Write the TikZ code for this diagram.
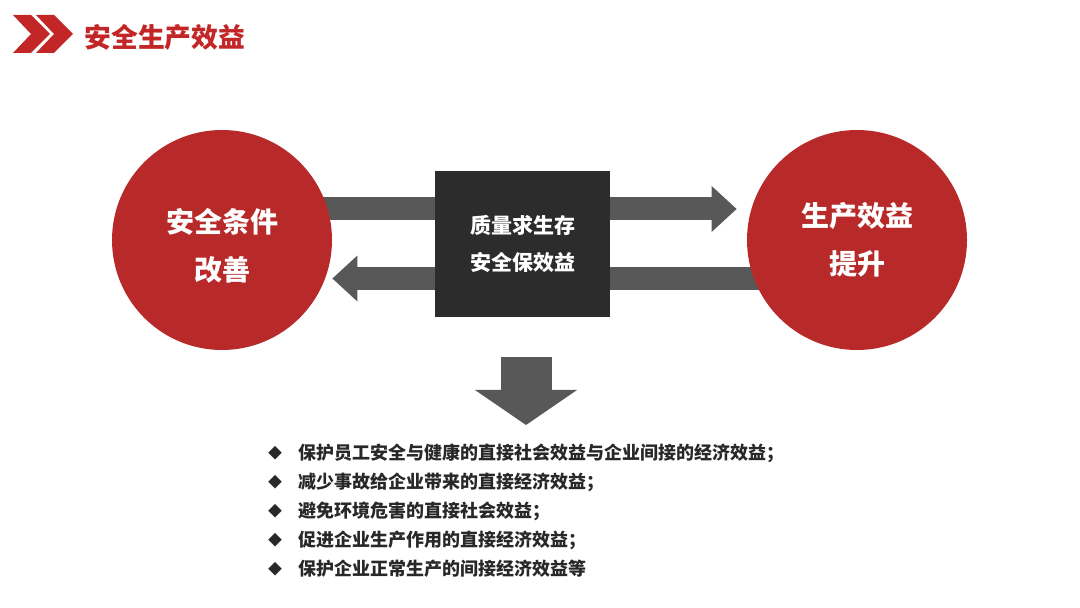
\documentclass[tikz,border=0pt]{standalone}
\usepackage{fontspec}
\setmainfont{Noto Sans CJK SC}
\usetikzlibrary{arrows.meta,backgrounds}
\definecolor{benefitred}{RGB}{184,42,42}
\definecolor{titlered}{RGB}{194,38,38}
\definecolor{boxdark}{RGB}{44,44,44}
\definecolor{arrowgray}{RGB}{88,88,88}
\definecolor{textgray}{RGB}{40,40,40}

\begin{document}
\begin{tikzpicture}[x=.5pt,y=-.5pt,line join=miter,
  disc/.style={circle,fill=benefitred,minimum size=110pt,inner sep=0pt,
   text=white,align=center,font=\fontsize{14}{24}\selectfont\bfseries},
  disctext/.style={inner sep=0pt,text=white,align=center,
   font=\fontsize{14}{24}\selectfont\bfseries},
  core/.style={fill=boxdark,minimum width=87.5pt,minimum height=73pt,
   inner sep=0pt,text=white,align=center,
   font=\fontsize{10.5}{18.5}\selectfont\bfseries},
  flow/.style={arrowgray,line width=11.5pt,
   -{Triangle[length=12.5pt,width=23pt,line width=0pt]}},
  item/.style={anchor=west,inner sep=0pt,text=textgray,
   font=\fontsize{9}{11}\selectfont\bfseries}]
 \useasboundingbox (0,0) rectangle (1080,608);
 % title
 \fill[titlered] (13,15)--(31,15)--(50,34)--(31,53)--(13,53)--(31,34)--cycle;
 \fill[titlered] (36,15)--(54,15)--(73,34)--(54,53)--(36,53)--(54,34)--cycle;
 \node[anchor=west,inner sep=0pt,text=titlered,
  font=\fontsize{13.4}{15}\selectfont\bfseries] (title) at (84,37) {安全生产效益};
 % circles and box
 \node[disc,label={[disctext,yshift=-3pt]center:{安全条件\\改善}}] (lc) at (222,240) {};
 \node[disc] (rc) at (857,240) {生产效益\\提升};
 \node[core] (core) at (522.5,244) {质量求生存\\安全保效益};
 \begin{scope}[on background layer]
  \draw[flow] ([yshift=15.5pt]lc.center) -- ([yshift=15.5pt,xshift=-5pt]rc.west);
  \draw[flow] ([yshift=-19.25pt]rc.center) -- ([yshift=-19.25pt]lc.east);
 \end{scope}
 \coordinate (dtop) at (526,357);
 \coordinate (dtip) at (526,425);
 \draw[flow,line width=25.5pt,-{Triangle[length=17.5pt,width=51pt,line width=0pt]}]
  (dtop) -- (dtip);
 % list
 \foreach \t [count=\i] in {保护员工安全与健康的直接社会效益与企业间接的经济效益；,
   减少事故给企业带来的直接经济效益；,避免环境危害的直接社会效益；,
   促进企业生产作用的直接经济效益；,保护企业正常生产的间接经济效益等}{
  \node[text=textgray,inner sep=0pt,font=\fontsize{7}{8}\selectfont]
   (dot\i) at (275,424+29*\i) {◆};
  \node[item] (item\i) at (298,424+29*\i) {\t};
 }
\end{tikzpicture}
\end{document}
